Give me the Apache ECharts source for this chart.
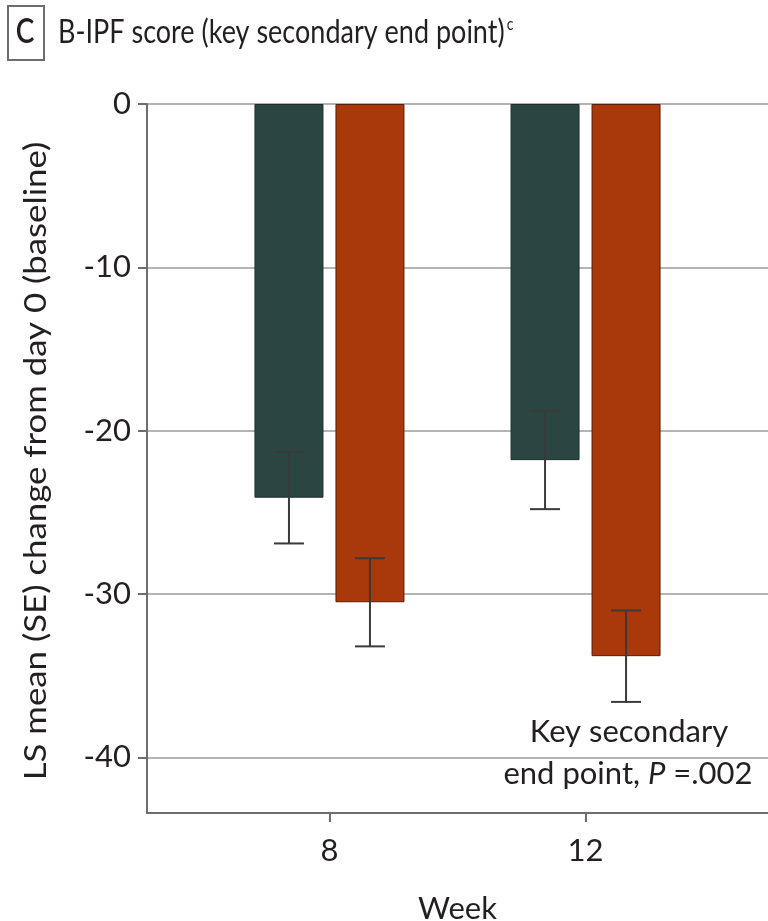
<!DOCTYPE html>
<html>
<head>
<meta charset="utf-8">
<script src="https://cdn.jsdelivr.net/npm/echarts@6/dist/echarts.min.js"></script>
<style>
html,body{margin:0;padding:0;background:#fff;}
#chart{width:768px;height:921px;}
</style>
</head>
<body>
<div id="chart"></div>
<script>
// ---- data ----
var weeks = [8, 12];
var seriesNames = ['Placebo', 'Treatment'];
var placeboMean = [-24.1, -21.8];
var placeboSE = [2.8, 3.0];
var treatMean = [-30.5, -33.8];
var treatSE = [2.7, 2.8];
var yTicks = [0, -10, -20, -30, -40];
var xTicks = [8, 12];

var FONT = 'Lato';
var TEXT = '#231f20';
var colors = ['#2a4542', '#a9380b'];
var borders = ['#1d2f2d', '#5c1c06'];
var BAR_W = 69;
var BAR_GAP = 12;

var chart = echarts.init(document.getElementById('chart'), null, {renderer: 'canvas'});

function errData(means, ses) {
  return weeks.map(function (w, i) { return [w, means[i], ses[i]]; });
}
function errRender(offset) {
  return function (params, api) {
    var w = api.value(0), m = api.value(1), s = api.value(2);
    var top = api.coord([w, m + s]);
    var bot = api.coord([w, m - s]);
    var x = top[0] + offset;
    var cap = 15;
    var style = {stroke: '#3a3a3a', lineWidth: 2};
    return {
      type: 'group',
      children: [
        {type: 'line', shape: {x1: x, y1: top[1], x2: x, y2: bot[1]}, style: style},
        {type: 'line', shape: {x1: x - cap, y1: top[1], x2: x + cap, y2: top[1]}, style: style},
        {type: 'line', shape: {x1: x - cap, y1: bot[1], x2: x + cap, y2: bot[1]}, style: style}
      ]
    };
  };
}
var off = (BAR_W + BAR_GAP) / 2;

var option = {
  animation: false,
  backgroundColor: '#fff',
  textStyle: {fontFamily: FONT},
  grid: {left: 147, right: 0, top: 104, bottom: 108, containLabel: false, outerBoundsMode: 'none'},
  xAxis: {
    type: 'value',
    min: 5.15,
    max: 14.85,
    axisLine: {show: true, onZero: false, lineStyle: {color: '#6d6d6d', width: 2}},
    axisTick: {show: true, customValues: xTicks, length: 9, lineStyle: {color: '#6d6d6d', width: 2}},
    axisLabel: {show: true, customValues: xTicks, color: TEXT, fontSize: 31, fontFamily: FONT, margin: 22},
    splitLine: {show: false},
    name: 'Week',
    nameLocation: 'middle',
    nameGap: 80,
    nameTextStyle: {color: TEXT, fontSize: 31, fontFamily: FONT}
  },
  yAxis: {
    type: 'value',
    min: -43.4,
    max: 0,
    axisLine: {show: true, onZero: false, lineStyle: {color: '#6d6d6d', width: 2}},
    axisTick: {show: true, customValues: yTicks, length: 9, lineStyle: {color: '#6d6d6d', width: 2}},
    axisLabel: {show: true, customValues: yTicks, color: TEXT, fontSize: 31, fontFamily: FONT, margin: 16,
      formatter: function (v) { return String(v); }},
    splitLine: {show: true, lineStyle: {color: '#b4b4b4', width: 2}}
  },
  series: [
    {
      name: seriesNames[0], type: 'bar', barWidth: BAR_W, barGap: (BAR_GAP / BAR_W * 100) + '%',
      itemStyle: {color: colors[0], borderColor: borders[0], borderWidth: 1},
      data: weeks.map(function (w, i) { return [w, placeboMean[i]]; }), z: 2
    },
    {
      name: seriesNames[1], type: 'bar', barWidth: BAR_W, barGap: (BAR_GAP / BAR_W * 100) + '%',
      itemStyle: {color: colors[1], borderColor: borders[1], borderWidth: 1},
      data: weeks.map(function (w, i) { return [w, treatMean[i]]; }), z: 2
    },
    {
      type: 'custom', renderItem: errRender(-off), data: errData(placeboMean, placeboSE), z: 5,
      encode: {x: 0, y: 1}
    },
    {
      type: 'custom', renderItem: errRender(off), data: errData(treatMean, treatSE), z: 5,
      encode: {x: 0, y: 1}
    }
  ],
  graphic: [
    {type: 'rect', left: 7, top: 5, shape: {width: 36, height: 54}, style: {fill: '#fff', stroke: '#6d6d6d', lineWidth: 2}},
    {type: 'text', x: 25, y: 32, scaleY: 1.2, style: {text: 'C', font: '600 28px ' + FONT, fill: TEXT, align: 'center', verticalAlign: 'middle'}},
    {type: 'text', x: 58, y: 32, scaleY: 1.22, style: {
      text: '{t|B-IPF score (key secondary end point)}{s|c}',
      verticalAlign: 'middle',
      rich: {
        t: {font: '27px ' + FONT, fill: TEXT},
        s: {font: '14px ' + FONT, fill: TEXT, verticalAlign: 'top', padding: [0, 0, 12, 2]}
      }
    }},
    {type: 'text', x: 36, y: 461, rotation: Math.PI / 2, scaleX: 1.16, style: {
      text: 'LS mean (SE) change from day 0 (baseline)', font: '30px ' + FONT, fill: TEXT,
      align: 'center', verticalAlign: 'middle'
    }},
    {type: 'text', x: 629, y: 732, style: {
      text: 'Key secondary', font: '31px ' + FONT, fill: TEXT, align: 'center', verticalAlign: 'middle'
    }},
    {type: 'text', x: 628, y: 774, style: {
      text: '{n|end point, }{i|P}{n| =.002}',
      align: 'center', verticalAlign: 'middle',
      rich: {
        n: {font: '31px ' + FONT, fill: TEXT},
        i: {font: 'italic 31px ' + FONT, fill: TEXT}
      }
    }}
  ]
};
chart.setOption(option);
</script>
</body>
</html>
